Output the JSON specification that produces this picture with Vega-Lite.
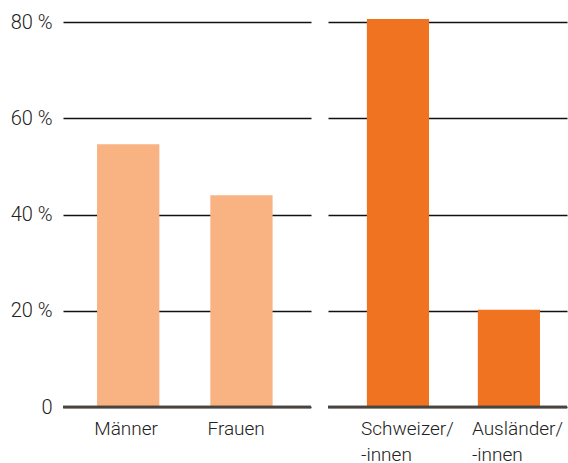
{
  "$schema": "https://vega.github.io/schema/vega-lite/v6.json",
  "description": "Anteile nach Geschlecht und Nationalität",
  "autosize": {"type": "pad"},
  "padding": {"left": 10, "top": 12, "right": 0, "bottom": 0},
  "data": {
    "values": [
      {"gruppe": "Geschlecht", "kategorie": "Männer", "anteil": 54.6},
      {"gruppe": "Geschlecht", "kategorie": "Frauen", "anteil": 44.0},
      {"gruppe": "Nationalität", "kategorie": "Schweizer/-innen", "anteil": 80.6},
      {"gruppe": "Nationalität", "kategorie": "Ausländer/-innen", "anteil": 20.2}
    ]
  },
  "spacing": 13,
  "hconcat": [
    {
      "width": 248,
      "height": 385,
      "transform": [{"filter": "datum.gruppe == 'Geschlecht'"}],
      "layer": [
        {
          "mark": {"type": "bar", "color": "#F9B382"},
          "encoding": {
            "x": {
              "field": "kategorie",
              "type": "nominal",
              "sort": null,
              "title": null,
              "scale": {"paddingInner": 0.45, "paddingOuter": 0.32, "align": 0.47},
              "axis": {"labelAngle": 0, "labelAlign": "left", "labelBaseline": "top", "labelOffset": -34, "labelPadding": 12, "ticks": false, "domain": false}
            },
            "y": {
              "field": "anteil",
              "type": "quantitative",
              "title": null,
              "scale": {"domain": [0, 80], "nice": false},
              "axis": {
                "values": [0, 20, 40, 60, 80],
                "labelExpr": "datum.value == 0 ? '0' : datum.value + ' %'",
                "labelFontSize": 20,
                "labelPadding": 11,
                "ticks": false,
                "domain": false,
                "grid": true
              }
            }
          }
        },
        {
          "mark": {"type": "rule", "color": "#4a4440", "strokeWidth": 2.5},
          "encoding": {"y": {"datum": 0}}
        }
      ]
    },
    {
      "width": 239,
      "height": 385,
      "transform": [{"filter": "datum.gruppe == 'Nationalität'"}],
      "layer": [
        {
          "mark": {"type": "bar", "color": "#F07322"},
          "encoding": {
            "x": {
              "field": "kategorie",
              "type": "nominal",
              "sort": null,
              "title": null,
              "scale": {"paddingInner": 0.44, "paddingOuter": 0.297, "align": 0.59},
              "axis": {
                "labelAngle": 0,
                "labelAlign": "left",
                "labelBaseline": "top",
                "labelOffset": -37,
                "labelPadding": 12,
                "labelExpr": "indexof(datum.value, '/') > 0 ? [slice(datum.value, 0, indexof(datum.value, '/') + 1), slice(datum.value, indexof(datum.value, '/') + 1)] : datum.value",
                "ticks": false,
                "domain": false
              }
            },
            "y": {
              "field": "anteil",
              "type": "quantitative",
              "title": null,
              "scale": {"domain": [0, 80], "nice": false},
              "axis": {"values": [0, 20, 40, 60, 80], "labels": false, "ticks": false, "domain": false, "grid": true}
            }
          }
        },
        {
          "mark": {"type": "rule", "color": "#4a4440", "strokeWidth": 2.5},
          "encoding": {"y": {"datum": 0}}
        }
      ]
    }
  ],
  "config": {
    "view": {"stroke": null},
    "font": "Roboto",
    "axis": {
      "labelFont": "Roboto",
      "labelFontSize": 19,
      "labelFontWeight": 300,
      "labelColor": "#222222",
      "labelLineHeight": 26,
      "gridColor": "#111111",
      "gridWidth": 1.6,
      "gridOpacity": 1
    }
  }
}
